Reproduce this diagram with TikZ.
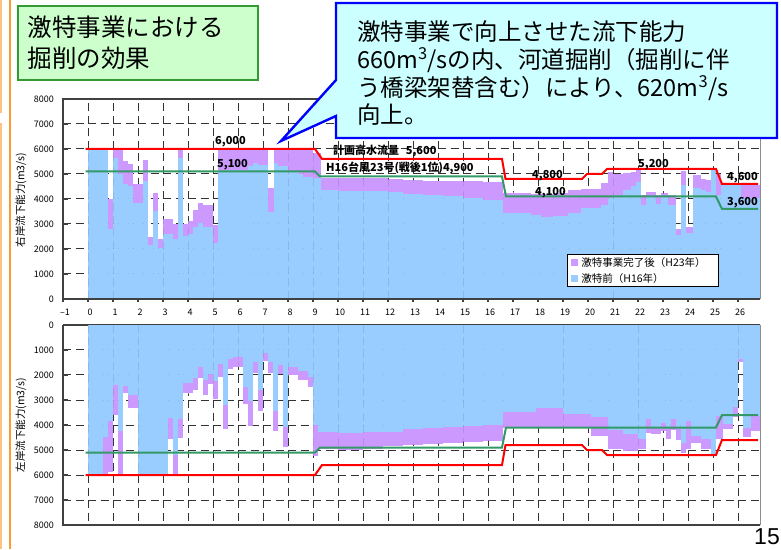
\documentclass[tikz,border=0pt]{standalone}
\usepackage{fontspec}
\setmainfont{Noto Sans CJK JP}
\newfontfamily\slidenumfont{Liberation Sans}
\usetikzlibrary{positioning}

\definecolor{beforeblue}{RGB}{153,204,255}
\definecolor{afterpurple}{RGB}{204,153,255}
\definecolor{planred}{RGB}{255,0,0}
\definecolor{floodgreen}{RGB}{51,153,102}
\definecolor{titlefill}{RGB}{204,255,204}
\definecolor{titleline}{RGB}{51,153,51}
\definecolor{callfill}{RGB}{204,255,255}
\definecolor{callline}{RGB}{0,0,255}
\definecolor{slideorange}{RGB}{255,153,51}

\tikzset{
  griddash/.style={draw=black!80, line width=1pt, dash pattern=on 8pt off 4.5pt},
  axisline/.style={draw=black!75, line width=1.2pt},
  edgeline/.style={draw=black!45, line width=1pt},
  planline/.style={draw=planred, line width=2pt},
  floodline/.style={draw=floodgreen, line width=2pt},
  ticklabel/.style={font=\fontsize{9}{10}\selectfont, inner sep=0pt},
  levellabel/.style={font=\fontsize{11}{12}\selectfont\bfseries, anchor=west, inner sep=0pt},
  axistitle/.style={font=\fontsize{10.5}{12}\selectfont, rotate=90, inner sep=0pt},
  titlebox/.style={draw=titleline, line width=1.6pt, fill=titlefill, minimum width=240pt,
    minimum height=74pt, text width=220pt, inner xsep=10pt, align=left,
    font=\fontsize{24.5}{31}\selectfont},
  callout/.style={draw=callline, line width=2.4pt, fill=callfill, line join=miter},
  notetext/.style={font=\fontsize{23.5}{27.7}\selectfont, align=left, anchor=west, inner sep=0pt},
  legendbox/.style={draw=black, line width=0.8pt, fill=white, minimum width=151pt,
    minimum height=32pt, inner sep=0pt},
  legendkey/.style={minimum size=7pt, inner sep=0pt},
  legendtext/.style={font=\fontsize{10.5}{12}\selectfont, inner sep=0pt},
}

% bars: from/to (km), before (H16), after (H23), in 1000 m3/s
\newcommand\rightbars{0/0.8/5.95/5.95, 0.8/1.0/2.8/4.0, 1.0/1.2/5.65/5.95,
  1.2/1.4/5.0/5.95, 1.4/1.6/4.6/5.5, 1.6/1.8/4.5/5.4, 1.8/2.2/3.83/4.6,
  2.2/2.4/4.73/5.56, 2.4/2.6/2.16/2.49, 2.6/2.8/3.53/4.25, 2.8/3.0/2.03/2.4,
  3.0/3.4/2.6/3.2, 3.4/3.6/2.4/3.0, 3.6/3.8/5.65/5.95, 3.8/4.0/2.53/3.0,
  4.0/4.2/2.6/3.12, 4.2/4.4/2.89/3.55, 4.4/4.6/3.05/3.85, 4.6/5.0/2.88/3.75,
  5.0/5.2/2.25/2.95, 5.2/6.4/5.15/5.95, 6.4/6.6/5.3/5.95, 6.6/6.8/5.43/5.95,
  6.8/7.2/5.35/5.95, 7.2/7.45/3.48/4.44, 7.45/7.6/5.43/5.95, 7.6/8.0/5.3/5.95,
  8.0/8.4/5.1/5.95, 8.4/8.6/5.0/5.95, 8.6/9.0/4.87/5.95, 9.0/9.3/4.85/5.83,
  9.3/10.0/4.36/4.85, 10.0/11.0/4.33/4.84, 11.0/12.0/4.30/4.82, 12.0/12.6/4.28/4.78,
  12.6/13.4/4.20/4.74, 13.4/14.2/4.16/4.72, 14.2/15.0/4.10/4.72, 15.0/15.8/4.04/4.70,
  15.8/16.6/3.97/4.68, 16.6/17.7/3.43/4.25, 17.7/18.1/3.36/4.19, 18.1/18.6/3.27/4.20,
  18.6/19.2/3.32/4.25, 19.2/19.7/3.43/4.36, 19.7/20.5/3.63/4.40, 20.5/20.8/3.76/4.63,
  20.8/21.0/4.03/5.09, 21.0/21.4/4.16/5.00, 21.4/21.7/4.35/5.05, 21.7/21.9/4.50/5.08,
  21.9/22.1/4.69/5.20, 22.1/22.3/3.76/4.16, 22.3/22.7/4.09/4.29, 22.7/22.9/3.80/4.16,
  22.9/23.2/4.10/4.22, 23.2/23.5/3.76/4.16, 23.5/23.7/2.56/2.78, 23.7/23.9/4.56/5.13,
  23.9/24.2/2.63/2.87, 24.2/24.5/4.43/4.96, 24.5/24.7/4.36/4.79, 24.7/24.9/4.29/4.76,
  24.9/25.1/5.16/5.16, 25.1/25.3/4.16/5.00, 25.3/26.1/4.56/4.56, 26.1/26.88/4.04/4.56}
\newcommand\leftbars{0/0.6/5.95/5.95, 0.6/0.8/4.47/5.95, 0.8/1.0/3.83/5.87,
  1.0/1.2/2.4/3.6, 1.2/1.4/4.24/5.95, 1.4/1.6/2.43/2.73, 1.6/2.0/2.8/3.3,
  2.0/3.2/5.95/5.95, 3.2/3.4/3.7/4.57, 3.4/3.6/5.2/5.95, 3.6/3.8/3.76/4.52,
  3.8/4.2/2.33/2.73, 4.2/4.4/2.1/2.6, 4.4/4.6/1.67/2.13, 4.6/4.8/2.2/2.8,
  4.8/5.0/1.96/2.36, 5.0/5.2/2.24/2.96, 5.2/5.4/1.57/2.07, 5.4/5.6/3.2/4.16,
  5.6/5.8/1.36/1.76, 5.8/6.0/1.3/1.7, 6.0/6.2/1.27/1.69, 6.2/6.4/2.47/3.17,
  6.4/6.6/3.04/4.03, 6.6/6.8/1.5/1.93, 6.8/7.0/2.6/3.43, 7.0/7.2/1.13/1.43,
  7.2/7.4/1.47/1.91, 7.4/7.6/3.43/4.23, 7.6/7.8/1.62/1.97, 7.8/8.0/4.09/4.89,
  8.0/8.4/1.69/2.02, 8.4/8.8/1.84/2.2, 8.8/9.0/2.07/2.47, 9.0/9.2/4.0/5.24,
  9.2/10.0/4.27/4.96, 10.0/11.0/4.30/4.98, 11.0/11.8/4.28/4.95, 11.8/12.6/4.27/4.85,
  12.6/13.4/4.15/4.78, 13.4/14.2/4.10/4.74, 14.2/15.0/4.06/4.70, 15.0/15.8/4.02/4.66,
  15.8/16.6/3.98/4.62, 16.6/17.9/3.47/4.13, 17.9/19.0/3.3/4.07, 19.0/20.1/3.56/4.13,
  20.1/20.8/3.66/4.43, 20.8/21.4/4.2/4.95, 21.4/22.0/4.37/5.03, 22.0/22.3/4.57/4.97,
  22.3/22.5/3.77/4.3, 22.5/22.9/4.1/4.37, 22.9/23.1/3.9/4.23, 23.1/23.3/4.1/4.57,
  23.3/23.5/3.77/4.2, 23.5/23.7/4.13/4.6, 23.7/23.9/4.73/5.13, 23.9/24.1/3.83/4.97,
  24.1/24.5/4.43/4.7, 24.5/24.9/4.57/4.97, 24.9/25.1/5.17/5.17, 25.1/25.4/3.63/4.57,
  25.4/25.8/3.97/4.17, 25.8/26.0/3.27/3.67, 26.0/26.2/1.37/1.47, 26.2/26.5/4.13/4.47,
  26.5/26.88/3.63/4.23}

% planned discharge and H16 flood levels
\newcommand\designlevels{%
  \path[planline] (-0.1,6) -- (9.08,6) -- (9.36,5.6) -- (16.56,5.6) -- (16.7,4.8)
    -- (19.76,4.8) -- (19.96,5) -- (20.56,5) -- (20.76,5.2) -- (25.12,5.2)
    -- (25.36,4.6) -- (26.8,4.6);
  \path[floodline] (-0.1,5.1) -- (9.08,5.1) -- (9.28,4.9) -- (16.56,4.9) -- (16.72,4.1)
    -- (25.12,4.1) -- (25.36,3.6) -- (26.8,3.6);
}

\begin{document}
\begin{tikzpicture}[x=1pt, y=1pt]
\useasboundingbox (0,0) rectangle (781,549);

% slide frame
\draw[slideorange, line width=2pt] (9.5,0) -- (9.5,549);
\draw[slideorange!60, line width=2pt] (1,549) -- (1,436) (1,426) -- (1,0);

% upper chart: right bank
\begin{scope}[shift={(88,250)}, x=25pt, y=25pt]
\foreach \xa/\xb/\qb/\qa in \rightbars{
  \fill[afterpurple] (\xa,0) rectangle (\xb,\qa);
  \fill[beforeblue] (\xa,0) rectangle (\xb,\qb);
}
% grid only where no bar stands
\begin{scope}[even odd rule]
\clip (-1,0) rectangle (26.88,8)
  \foreach \xa/\xb/\qb/\qa in \rightbars {(\xa,0) rectangle (\xb,\qa)};
\foreach \g in {1,...,7}
  \path[griddash] (-1,\g) -- (26.88,\g);
\foreach \g in {0,...,26}
  \path[griddash] (\g,0) -- (\g,8);
\end{scope}
\designlevels
\path[edgeline] (26.88,0) -- (26.88,8);
\path[axisline] (26.88,8) -- (-1,8) -- (-1,0) -- (26.88,0);
\foreach \k in {0,...,8}{
  \path[axisline] (-1,\k) -- (-0.8,\k);
  \pgfmathtruncatemacro\lab{\k*1000}
  \node[ticklabel, anchor=east] (ry\k) at (-1.36,\k) {\lab};
}
\foreach \k [evaluate=\k as \n using int(\k+1)] in {-1,...,26}{
  \path[axisline] (\k,0) -- (\k,-0.12);
  \node[ticklabel] (xl\n) at (\k+0.08,-0.52) {\ifnum\k<0 \textendash1\else\k\fi};
}
\node[levellabel] (lab6000) at (5.08,6.28) {6,000};
\node[levellabel] (lab5100) at (5.16,5.36) {5,100};
\node[levellabel] (labplan) at (9.8,5.92) {計画高水流量\hspace{0.6em}5,600};
\node[levellabel] (labflood) at (9.52,5.24) {H16台風23号(戦後1位)4,900};
\node[levellabel] (lab4800) at (17.76,4.92) {4,800};
\node[levellabel] (lab4100) at (17.88,4.24) {4,100};
\node[levellabel] (lab5200) at (22.0,5.36) {5,200};
\node[levellabel] (lab4600) at (25.56,4.84) {4,600};
\node[levellabel] (lab3600) at (25.56,3.84) {3,600};
\end{scope}

% lower chart: left bank (drawn downward)
\begin{scope}[shift={(88,224)}, x=25pt, y=-25pt]
\path[axisline] (-1,0) -- (26.88,0);
\foreach \xa/\xb/\qb/\qa in \leftbars{
  \fill[afterpurple] (\xa,0) rectangle (\xb,\qa);
  \fill[beforeblue] (\xa,0) rectangle (\xb,\qb);
}
\begin{scope}[even odd rule]
\clip (-1,0) rectangle (26.88,8)
  \foreach \xa/\xb/\qb/\qa in \leftbars {(\xa,0) rectangle (\xb,\qa)};
\foreach \g in {1,...,7}
  \path[griddash] (-1,\g) -- (26.88,\g);
\foreach \g in {0,...,26}
  \path[griddash] (\g,0) -- (\g,8);
\end{scope}
\designlevels
\path[edgeline] (26.88,0) -- (26.88,8);
\path[axisline] (-1,0) -- (-1,8) -- (26.88,8);
\foreach \k in {0,...,8}{
  \path[axisline] (-1,\k) -- (-0.8,\k);
  \pgfmathtruncatemacro\lab{\k*1000}
  \node[ticklabel, anchor=east] (ly\k) at (-1.36,\k) {\lab};
}
\end{scope}

% axis titles
\node[axistitle] (rtitle) at (21,349) {右岸流下能力(m3/s)};
\node[axistitle] (ltitle) at (21,124) {左岸流下能力(m3/s)};

% legend
\node[legendbox, anchor=south west] (legend) at (567,262) {};
\node[legendkey, fill=afterpurple] (keyafter) at (574.5,286) {};
\node[legendtext, right=3pt of keyafter] (txtafter) {激特事業完了後（H23年）};
\node[legendkey, fill=beforeblue] (keybefore) at (574.5,270) {};
\node[legendtext, right=3pt of keybefore] (txtbefore) {激特前（H16年）};

% title and callout
\node[titlebox, anchor=north west] (title) at (17,544) {激特事業における\\掘削の効果};
\draw[callout] (336,546) -- (777,546) -- (777,411) -- (336,411) -- (336,433)
  -- (281,408) -- (336,469) -- cycle;
\node[notetext] (note) at (357,475.5) {激特事業で向上させた流下能力\\
  660m\textsuperscript{3}/sの内、河道掘削（掘削に伴\\
  う橋梁架替含む）により、620m\textsuperscript{3}/s\\
  向上。};

\node[font=\slidenumfont\fontsize{23}{23}\selectfont, anchor=base east, inner sep=0pt] (pageno) at (780,5) {15};
\end{tikzpicture}
\end{document}
